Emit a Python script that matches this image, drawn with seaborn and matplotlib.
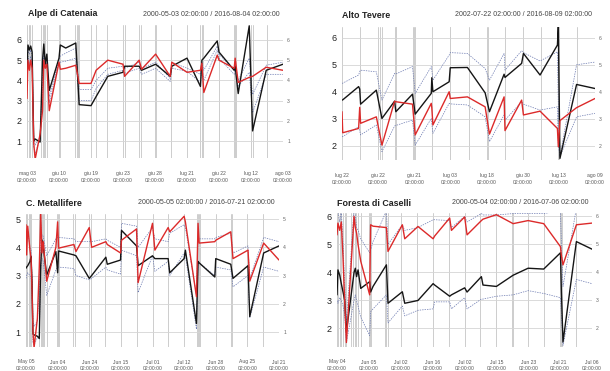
import numpy as np
import pandas as pd
import matplotlib
matplotlib.use("Agg")
import matplotlib.pyplot as plt
import seaborn as sns

sns.set_theme(style="white")
plt.rcParams["font.family"] = ["Liberation Sans", "DejaVu Sans"]

# ---------------- Panel 1: Alpe di Catenaia ----------------
p1_title = "Alpe di Catenaia"
p1_range = "2000-05-03 02:00:00 / 2016-08-04 02:00:00"
p1_ticklabels = ["mag 03", "giu 10", "giu 19", "giu 23", "giu 28", "lug 21", "giu 22", "lug 12", "ago 03"]
p1_yticks = [1, 2, 3, 4, 5, 6]
p1_idx = [0.0, 0.06, 0.15, 0.23, 0.32, 0.42, 0.51, 0.82, 0.97, 1.05, 1.14, 1.24, 1.39, 2.0, 2.08, 2.42,
          3.05, 3.26, 4.0, 4.32, 5.05, 6.0, 6.1, 7.01, 7.16, 8.04, 8.95, 9.05, 10.0, 10.84, 10.93, 11.05,
          11.89, 12.0, 12.95, 13.01, 13.2, 13.89, 14.1, 14.95, 16.0]
p1_black = [4.1, 5.75, 5.5, 5.7, 5.4, 1.0, 1.1, 0.95, 5.0, 5.8, 4.8, 5.3, 3.5, 5.1, 5.75, 5.6,
            5.85, 2.8, 2.75, 3.2, 4.2, 4.4, 4.7, 4.7, 4.5, 4.8, 4.2, 4.7, 5.1, 3.7, 5.0, 5.1,
            5.95, 5.4, 4.5, 4.7, 3.35, 6.7, 1.5, 4.5, 4.8]
p1_red = [3.1, 5.0, 4.5, 5.0, 4.6, 0.9, 0.1, 1.35, 2.5, 5.0, 4.6, 4.8, 2.5, 4.9, 4.55, 4.6,
          4.75, 3.85, 3.85, 4.5, 5.0, 4.8, 4.2, 5.0, 4.55, 5.3, 4.2, 4.9, 4.4, 4.5, 4.85, 3.4,
          5.25, 5.0, 4.6, 5.1, 3.9, 4.15, 4.2, 4.65, 4.5]
p1_up = [4.5, 5.5, 5.3, 5.5, 5.2, 1.3, 0.8, 1.2, 4.2, 5.5, 4.8, 5.1, 3.2, 5.0, 5.2, 5.35,
         5.6, 3.55, 3.55, 4.0, 4.6, 4.7, 4.6, 4.9, 4.6, 4.9, 4.1, 4.9, 4.6, 4.3, 4.9, 4.5,
         5.7, 5.3, 4.5, 4.8, 4.0, 5.1, 3.3, 4.75, 4.9]
p1_lo = [3.5, 5.2, 4.8, 5.2, 4.8, 0.7, 0.4, 1.1, 3.4, 5.2, 4.6, 4.9, 2.9, 4.9, 4.9, 4.95,
         5.1, 3.0, 3.0, 3.6, 4.3, 4.5, 4.35, 4.6, 4.3, 4.6, 3.95, 4.6, 4.45, 3.9, 4.7, 4.0,
         5.5, 5.1, 4.3, 4.5, 3.7, 4.4, 2.4, 4.3, 4.3]
p1_marks = [0.1, 0.2, 0.3, 0.9, 1.05, 1.15, 1.25, 2.06, 3.1, 3.18, 3.26, 4.3, 6.1, 7.15, 8.05,
            10.84, 10.93, 12.95, 13.05, 14.1]

# ---------------- Panel 2: Alto Tevere ----------------
p2_title = "Alto Tevere"
p2_range = "2002-07-22 02:00:00 / 2016-08-09 02:00:00"
p2_ticklabels = ["lug 22", "giu 22", "giu 21", "lug 03", "lug 18", "giu 30", "lug 13", "ago 09"]
p2_yticks = [2, 3, 4, 5, 6]
p2_idx = [0.0, 0.04, 0.92, 0.98, 1.03, 1.9, 2.21, 2.91, 2.98, 3.9, 4.05, 4.94, 4.97, 5.03, 5.93,
          5.99, 6.94, 7.92, 8.16, 8.97, 9.02, 9.94, 10.04, 10.96, 11.92, 11.97, 12.06, 12.98, 14.0]
p2_black = [3.69, 3.70, 4.19, 4.10, 3.54, 4.06, 3.01, 3.65, 3.26, 3.91, 3.17, 3.94, 4.52, 4.00, 4.37,
            4.89, 4.90, 3.96, 3.26, 4.65, 4.53, 5.05, 5.42, 4.62, 5.73, 6.40, 1.53, 4.27, 4.12]
p2_red = [3.26, 2.48, 2.64, 3.42, 2.83, 3.07, 2.02, 3.65, 3.63, 3.54, 2.40, 3.57, 3.40, 2.77, 4.00,
          3.75, 3.81, 3.44, 2.43, 3.81, 2.56, 3.69, 3.14, 3.28, 2.64, 1.96, 2.93, 3.41, 3.75]
p2_up = [4.31, 4.32, 4.62, 4.75, 4.80, 4.74, 3.69, 4.68, 4.66, 4.93, 3.94, 4.93, 4.80, 4.43, 5.36,
         5.45, 5.42, 4.86, 4.43, 5.42, 4.80, 5.52, 5.45, 5.14, 5.48, 3.50, 1.60, 5.00, 5.10]
p2_lo = [2.33, 2.34, 2.70, 2.55, 2.40, 2.77, 1.78, 2.73, 2.75, 2.95, 2.02, 3.01, 2.80, 2.46, 3.57,
         3.55, 3.51, 3.07, 2.15, 3.14, 2.95, 3.63, 3.54, 3.32, 3.44, 2.00, 1.60, 3.07, 3.20]
p2_marks = [1.0, 2.1, 2.2, 2.96, 2.98, 3.0, 3.95, 4.05, 5.0, 5.97, 8.0, 8.1, 11.97, 11.99, 12.01]

# ---------------- Panel 3: C. Metallifere ----------------
p3_title = "C. Metallifere"
p3_range = "2000-05-05 02:00:00 / 2016-07-21 02:00:00"
p3_ticklabels = ["May 05", "Jun 04", "Jun 24", "Jun 15", "Jul 01", "Jul 12", "Jun 28", "Aug 25", "Jul 21"]
p3_yticks = [1, 2, 3, 4, 5]
p3_idx = [0.0, 0.04, 0.11, 0.25, 0.32, 0.38, 0.44, 0.51, 0.72, 0.84, 0.93, 1.01, 1.09, 1.31, 1.89,
          2.0, 2.06, 3.03, 3.16, 4.0, 4.15, 5.05, 5.14, 5.98, 6.04, 6.99, 7.09, 8.0, 8.15, 8.99,
          9.09, 10.0, 10.08, 10.78, 10.88, 10.95, 11.94, 12.0, 12.95, 13.09, 14.04, 14.15, 15.03, 16.0]
p3_black = [3.26, 3.3, 3.35, 3.5, 3.67, 2.78, 0.94, 0.9, 0.85, 0.77, 3.37, 4.26, 4.03, 3.02, 3.85,
            3.1, 3.87, 3.73, 3.7, 2.9, 3.0, 3.65, 3.4, 3.55, 4.6, 4.05, 3.35, 3.7, 3.6, 3.6,
            3.1, 3.6, 3.9, 1.3, 3.5, 3.45, 2.95, 3.6, 3.4, 2.9, 3.35, 1.55, 3.8, 4.05]
p3_red = [4.8, 3.73, 4.75, 3.9, 3.6, 2.5, 1.0, 0.45, 1.48, 3.3, 5.2, 3.8, 4.2, 2.8, 4.0,
          4.9, 3.97, 4.1, 3.85, 4.7, 4.0, 4.2, 4.1, 3.8, 4.25, 4.65, 2.75, 4.85, 3.9, 4.7,
          4.55, 5.1, 4.9, 2.25, 4.85, 4.15, 4.2, 4.25, 4.55, 3.6, 3.9, 2.8, 4.15, 3.55]
p3_up = [4.5, 4.3, 4.6, 4.0, 3.9, 3.0, 1.4, 1.2, 1.4, 2.5, 4.9, 4.4, 4.4, 3.7, 4.3,
         4.35, 4.35, 4.3, 4.2, 4.2, 4.2, 4.3, 4.25, 4.0, 4.85, 4.75, 4.0, 4.7, 4.3, 4.2,
         4.5, 4.8, 4.7, 2.3, 4.4, 4.3, 4.3, 4.35, 4.5, 3.8, 4.05, 2.9, 4.35, 4.2]
p3_lo = [2.9, 3.0, 3.1, 3.0, 2.9, 2.3, 0.6, 0.55, 0.8, 0.8, 3.2, 3.6, 3.5, 2.3, 3.2,
         3.3, 3.3, 3.25, 3.0, 2.85, 2.9, 3.3, 3.2, 3.05, 3.9, 3.7, 2.4, 3.7, 3.15, 3.5,
         3.0, 3.8, 3.7, 1.1, 3.5, 3.45, 3.0, 3.3, 3.2, 2.6, 3.0, 1.5, 3.3, 3.15]
p3_marks = [0.08, 0.16, 0.24, 0.32, 0.84, 0.95, 1.05, 1.15, 1.31, 1.95, 2.06, 3.1, 4.1, 6.0,
            10.8, 10.88, 10.95, 12.95]

# ---------------- Panel 4: Foresta di Caselli ----------------
p4_title = "Foresta di Caselli"
p4_range = "2000-05-04 02:00:00 / 2016-07-06 02:00:00"
p4_ticklabels = ["May 04", "Jun 05", "Jul 02", "Jun 16", "Jul 02", "Jul 15", "Jun 23", "Jul 21", "Jul 06"]
p4_yticks = [2, 3, 4, 5, 6]
p4_idx = [0.0, 0.06, 0.17, 0.27, 0.38, 0.48, 0.59, 1.07, 1.15, 1.23, 1.32, 1.49, 2.05, 2.11, 2.26,
          3.1, 3.2, 4.1, 4.25, 5.08, 6.03, 6.13, 7.07, 7.18, 8.01, 8.16, 9.06, 9.16, 10.0, 11.05,
          11.99, 12.97, 14.02, 14.08, 14.18, 15.02, 16.0]
p4_black = [3.2, 4.09, 3.9, 3.6, 3.3, 3.01, 1.88, 4.0, 4.15, 3.85, 4.09, 3.43, 3.67, 3.3, 3.5,
            4.27, 2.9, 3.31, 2.9, 3.0, 3.6, 3.55, 3.15, 3.2, 3.45, 3.3, 3.85, 3.55, 3.5, 3.9,
            4.15, 4.12, 4.7, 3.3, 1.52, 5.1, 4.83]
p4_red = [5.34, 5.76, 5.5, 5.8, 4.5, 3.0, 1.5, 6.0, 5.6, 5.4, 5.0, 4.4, 3.2, 5.7, 5.65,
          5.6, 4.75, 5.7, 5.2, 5.64, 5.2, 5.3, 5.94, 5.5, 5.98, 5.34, 5.85, 5.9, 6.06, 5.74,
          5.85, 5.74, 4.92, 4.6, 4.27, 5.7, 5.76]
p4_up = [6.2, 6.2, 5.8, 6.2, 5.0, 3.6, 2.2, 6.3, 6.0, 5.6, 5.5, 5.2, 4.7, 4.8, 5.1,
         6.2, 5.0, 5.7, 5.5, 5.6, 5.88, 5.88, 5.85, 5.6, 6.0, 5.8, 6.1, 6.05, 6.05, 6.1,
         6.1, 6.1, 6.2, 5.0, 3.5, 6.3, 6.4]
p4_lo = [3.0, 2.9, 3.1, 3.0, 2.8, 2.5, 1.5, 3.0, 3.2, 3.0, 2.8, 2.4, 1.75, 2.6, 2.7,
         3.2, 2.2, 2.8, 2.45, 2.65, 2.7, 2.95, 2.95, 2.7, 3.1, 2.7, 3.05, 3.05, 3.15, 3.2,
         3.35, 3.25, 3.1, 2.5, 1.4, 3.75, 3.6]
p4_marks = [0.08, 0.17, 0.27, 0.38, 0.48, 0.59, 0.9, 1.0, 1.1, 1.2, 1.32, 1.49, 2.05, 2.11,
            3.1, 3.2, 11.05, 14.02, 14.08, 14.12]

panels = [
    dict(title=p1_title, rng=p1_range, labels=p1_ticklabels, yticks=p1_yticks, idx=p1_idx,
         black=p1_black, red=p1_red, up=p1_up, lo=p1_lo, marks=p1_marks, nx=16,
         rect=(27, 25, 283, 158), ylim=(0.16, 6.74), title_xy=(28, 14), rng_x=280),
    dict(title=p2_title, rng=p2_range, labels=p2_ticklabels, yticks=p2_yticks, idx=p2_idx,
         black=p2_black, red=p2_red, up=p2_up, lo=p2_lo, marks=p2_marks, nx=14,
         rect=(342, 27, 595, 160), ylim=(1.47, 6.4), title_xy=(342, 15), rng_x=592),
    dict(title=p3_title, rng=p3_range, labels=p3_ticklabels, yticks=p3_yticks, idx=p3_idx,
         black=p3_black, red=p3_red, up=p3_up, lo=p3_lo, marks=p3_marks, nx=16,
         rect=(26, 214, 279, 347), ylim=(0.47, 5.18), title_xy=(26, 203), rng_x=275),
    dict(title=p4_title, rng=p4_range, labels=p4_ticklabels, yticks=p4_yticks, idx=p4_idx,
         black=p4_black, red=p4_red, up=p4_up, lo=p4_lo, marks=p4_marks, nx=16,
         rect=(337, 213, 592, 347), ylim=(1.34, 6.12), title_xy=(337, 203), rng_x=588),
]

W, H = 610, 371
fig = plt.figure(figsize=(W / 100, H / 100), dpi=100)

for p in panels:
    x0, y0, x1, y1 = p["rect"]
    ax = fig.add_axes([x0 / W, 1 - y1 / H, (x1 - x0) / W, (y1 - y0) / H])
    df = pd.DataFrame({"idx": p["idx"], "black": p["black"], "red": p["red"],
                       "up": p["up"], "lo": p["lo"]})
    for col, color, lw, ls in [("up", "#6a78b0", 0.5, (0, (2, 1.5))),
                               ("lo", "#6a78b0", 0.5, (0, (2, 1.5))),
                               ("black", "#151515", 1.0, "-"),
                               ("red", "#dc2a2a", 1.0, "-")]:
        sns.lineplot(data=df, x="idx", y=col, ax=ax, color=color, lw=lw, linestyle=ls,
                     sort=False, estimator=None, legend=False)
    nx = p["nx"]
    for s in ax.spines.values():
        s.set_visible(False)
    ax.spines["bottom"].set_position(("outward", 6))
    ax.set_xlim(0, nx)
    ax.set_ylim(*p["ylim"])
    ax.set_xlabel("")
    ax.set_ylabel("")
    ax.tick_params(axis="x", which="both", direction="in", length=2.8, width=0.7,
                   color="#333333", pad=3.0, labelsize=3.6, labelcolor="#555555")
    ax.tick_params(axis="y", length=0, pad=4, labelsize=6.5, labelcolor="#222222")
    ax.set_xticks(list(range(0, nx + 1, 2)))
    ax.set_xticklabels([f"{l}\n02:00:00" for l in p["labels"]], linespacing=1.5)
    minor = sorted(set(list(range(1, nx, 2)) + p["marks"]))
    ax.set_xticks(minor, minor=True)
    ax.set_yticks(p["yticks"])
    ax.set_yticklabels([str(v) for v in p["yticks"]])
    ax.set_axisbelow(True)
    ax.grid(axis="x", which="both", color="#cdcdcd", lw=0.7)
    ax.grid(axis="y", which="major", color="#d4d4d4", lw=0.6)
    sec = ax.secondary_yaxis("right")
    for s in sec.spines.values():
        s.set_visible(False)
    sec.tick_params(length=0, pad=3, labelsize=3.6, labelcolor="#666666")
    sec.set_yticks(p["yticks"])
    sec.set_yticklabels([str(v) for v in p["yticks"]])
    tx, ty = p["title_xy"]
    fig.text(tx / W, 1 - ty / H, p["title"], fontsize=6.4, fontweight="bold", color="#222222",
             ha="left", va="center")
    fig.text(p["rng_x"] / W, 1 - ty / H, p["rng"], fontsize=5.0, color="#444444",
             ha="right", va="center")

fig.savefig("out.png", dpi=100)
